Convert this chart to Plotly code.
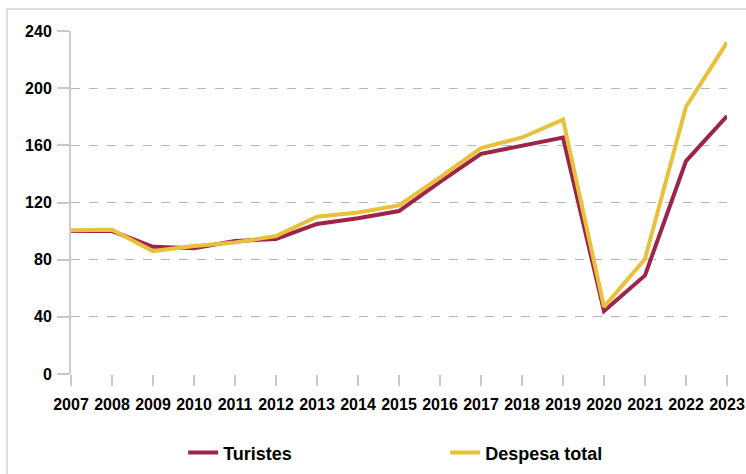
import plotly.graph_objects as go

years = list(range(2007, 2024))
turistes = [100, 100, 89, 88, 93, 94.5, 105, 109, 114, 134.5, 154, 159.5, 165.5, 44, 69, 149, 180.5]
despesa = [100.5, 101, 86, 89.5, 92, 96.5, 110, 113, 118, 137.5, 158, 165.5, 178, 47, 80.5, 187, 232]
yticks = [0, 40, 80, 120, 160, 200, 240]

MAROON = "#9c2449"
YELLOW = "#e9c03c"
FONT = "Liberation Sans, Arial, sans-serif"

def f(size):
    return dict(family=FONT, size=size, color="black", weight="bold")

fig = go.Figure()
fig.add_trace(go.Scatter(x=years, y=turistes, mode="lines", name="Turistes",
                         line=dict(color=MAROON, width=4)))
fig.add_trace(go.Scatter(x=years, y=despesa, mode="lines", name="Despesa total",
                         line=dict(color=YELLOW, width=4)))

fig.update_layout(
    width=746, height=474,
    margin=dict(l=71, r=19, t=31, b=100, autoexpand=False),
    paper_bgcolor="white", plot_bgcolor="white",
    font=f(16),
    showlegend=True,
    legend=dict(orientation="h", x=0.171, y=-0.23, xanchor="left", yanchor="middle",
                font=f(18),
                entrywidth=217, entrywidthmode="pixels",
                bgcolor="rgba(0,0,0,0)"),
    xaxis=dict(range=[2007, 2023], tickmode="array", tickvals=years,
               ticktext=[str(y) for y in years], tickangle=0, automargin=False,
               showgrid=False, zeroline=False, showline=False,
               ticks="outside", ticklen=11, tickcolor="#c8c8c8", tickwidth=1.5,
               tickfont=f(16),
               ticklabelstandoff=5),
    yaxis=dict(range=[0, 240], tickmode="array", tickvals=yticks, automargin=False,
               showgrid=True, gridcolor="#b8b8b8", griddash="dash", gridwidth=1,
               zeroline=False, showline=True, linecolor="#cccccc", linewidth=2,
               ticks="outside", ticklen=12, tickcolor="#c8c8c8", tickwidth=1.5,
               tickfont=f(16),
               ticklabelstandoff=2),
    shapes=[dict(type="rect", xref="paper", yref="paper",
                 x0=-0.0976, x1=1.2, y0=-0.5, y1=1.064,
                 line=dict(color="#d4d4d4", width=1.5), layer="below")],
)

fig.write_html("out.html",
               config={"responsive": False, "displayModeBar": False},
               post_script="document.body.style.margin='0';document.body.style.overflow='hidden';")
